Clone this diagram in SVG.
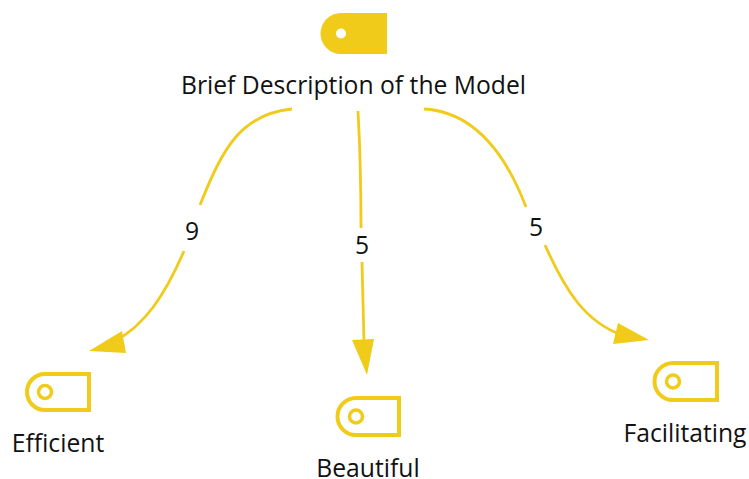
<svg xmlns="http://www.w3.org/2000/svg" width="749" height="479" viewBox="0 0 749 479">
<style>
.lbl{font-family:"Open Sans","Noto Sans","Liberation Sans",sans-serif;font-size:24.700px;fill:#111;text-anchor:middle}
.edge{fill:none;stroke:#f0cb1a;stroke-width:2.800}
.head{fill:#f0cb1a;stroke:none}
.out{fill:#fff;stroke:#f0cb1a;stroke-width:4}
.hole{fill:#fff;stroke:#f0cb1a;stroke-width:3.500}
</style>
<rect width="749" height="479" fill="#fff"/>
<g id="connectors">
<path class="edge" d="M292 109C240 114 222 150 200 205"/>
<path class="edge" d="M184 251C165 295 145 325 115 341"/>
<polygon class="head" points="89,351 122,331 126,353"/>
<path class="edge" d="M358 111Q361 165 361 228"/>
<path class="edge" d="M362 262L364 342"/>
<polygon class="head" points="367,375 352,340 374,339"/>
<path class="edge" d="M424 109C478 112 508 160 526 207"/>
<path class="edge" d="M545 245C565 290 585 322 622 335"/>
<polygon class="head" points="649,340 618,323 613,344"/>
<text class="lbl" x="192" y="240">9</text>
<text class="lbl" x="362" y="254">5</text>
<text class="lbl" x="536" y="236">5</text>
</g>
<g id="node-model">
<path d="M387 13V54H341A20.500 20.500 0 0 1 341 13Z" fill="#f0cb1a"/>
<circle cx="341" cy="33.500" r="5" fill="#fff"/>
<text class="lbl" x="353.500" y="94">Brief Description of the Model</text>
</g>
<g id="node-efficient">
<path class="out" d="M89 374V410H45A18 18 0 0 1 45 374Z"/>
<circle class="hole" cx="45" cy="392" r="6.500"/>
<text class="lbl" x="58" y="452">Efficient</text>
</g>
<g id="node-beautiful">
<path class="out" d="M399 398V435H356A18.500 18.500 0 0 1 356 398Z"/>
<circle class="hole" cx="356" cy="416.500" r="6.500"/>
<text class="lbl" x="368" y="477">Beautiful</text>
</g>
<g id="node-facilitating">
<path class="out" d="M717 363V400H673A18.500 18.500 0 0 1 673 363Z"/>
<circle class="hole" cx="673" cy="381.500" r="6.500"/>
<text class="lbl" x="685" y="442">Facilitating</text>
</g>
</svg>
